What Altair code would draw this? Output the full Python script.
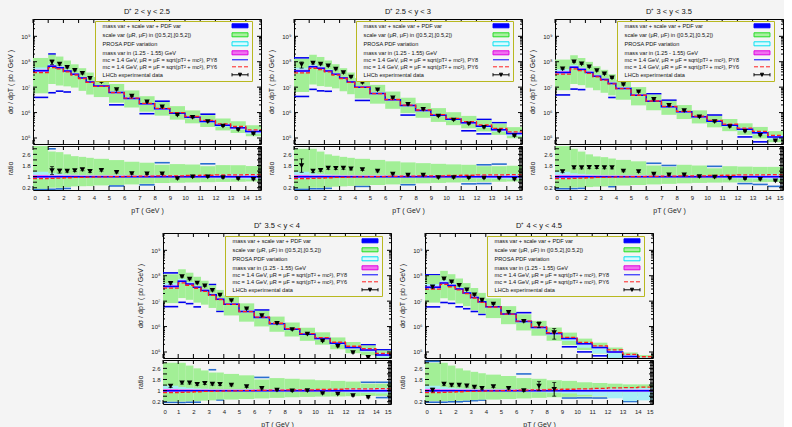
import altair as alt
import pandas as pd

FONT = "Liberation Sans"
BG = "#f4f4f4"

# ---------------- binning ----------------
bin_lo = [0, 1, 1.5, 2, 2.5, 3, 3.5, 4, 5, 6, 7, 8, 9, 10, 11, 12, 13, 14]
bin_hi = [1, 1.5, 2, 2.5, 3, 3.5, 4, 5, 6, 7, 8, 9, 10, 11, 12, 13, 14, 15]
bin_mid = [0.5, 1.25, 1.75, 2.25, 2.75, 3.25, 3.75, 4.5, 5.5, 6.5, 7.5, 8.5,
           9.5, 10.5, 11.5, 12.5, 13.5, 14.5]

panel_titles = ["D⁺    2 < y < 2.5", "D⁺    2.5 < y < 3", "D⁺    3 < y < 3.5",
                "D⁺    3.5 < y < 4", "D⁺    4 < y < 4.5"]

# ---------------- central prediction (PY8), pb/GeV ----------------
central_1 = [4.4e7, 6.7e7, 5.8e7, 4.3e7, 3.2e7, 2.3e7, 1.6e7, 1.1e7, 6.1e6, 3.6e6,
             2.2e6, 1.4e6, 9.4e5, 6.5e5, 4.5e5, 3.2e5, 2.5e5, 1.8e5]
central_2 = [4.3e7, 6.3e7, 5.5e7, 4.3e7, 3.2e7, 2.3e7, 1.6e7, 1.0e7, 5.6e6, 3.2e6,
             1.9e6, 1.2e6, 7.8e5, 5.5e5, 4.0e5, 2.9e5, 2.1e5, 1.5e5]
central_3 = [3.8e7, 6.0e7, 5.0e7, 3.8e7, 2.7e7, 2.0e7, 1.4e7, 8.9e6, 4.8e6, 2.8e6,
             1.7e6, 1.07e6, 6.8e5, 4.6e5, 3.2e5, 2.2e5, 1.6e5, 1.1e5]
central_4 = [3.8e7, 6.0e7, 4.7e7, 3.5e7, 2.6e7, 1.8e7, 1.2e7, 7.6e6, 3.9e6, 2.3e6,
             1.3e6, 7.8e5, 5.0e5, 3.4e5, 2.2e5, 1.5e5, 1.2e5, 7.6e4]
central_5 = [3.5e7, 5.2e7, 4.1e7, 3.0e7, 2.1e7, 1.4e7, 9.4e6, 6.0e6, 3.1e6, 1.6e6,
             9.1e5, 5.3e5, 3.4e5, 2.1e5, 1.5e5, 1.0e5, 6.6e4, 5.2e4]

# ---------------- LHCb data (pb/GeV) and relative errors ----------------
data_1 = [None, 9.6e7, 8.1e7, 6.0e7, 4.6e7, 3.45e7, 2.2e7, 1.6e7, 8.0e6, 4.4e6,
          2.64e6, 1.68e6, 8.0e5, 6.4e5, 4.45e5, 2.95e5, 2.1e5, 1.44e5]
err_1 = [None, 0.2, 0.1, 0.05, 0.05, 0.05, 0.05, 0.04, 0.04, 0.04,
         0.04, 0.04, 0.04, 0.04, 0.04, 0.04, 0.04, 0.04]
data_2 = [7.7e7, 8.8e7, 8.0e7, 6.9e7, 5.1e7, 3.7e7, 2.5e7, 1.5e7, 7.8e6, 3.75e6,
          2.1e6, 1.34e6, 7.3e5, 5.1e5, 3.6e5, 2.6e5, 1.85e5, 1.2e5]
err_2 = [0.27, 0.08, 0.05, 0.05, 0.05, 0.05, 0.05, 0.04, 0.04, 0.04,
         0.04, 0.04, 0.04, 0.04, 0.04, 0.04, 0.04, 0.04]
data_3 = [5.2e7, 9.9e7, 8.2e7, 6.3e7, 4.5e7, 3.3e7, 2.3e7, 1.25e7, 6.5e6, 3.3e6,
          1.9e6, 1.2e6, 6.8e5, 4.4e5, 2.8e5, 1.83e5, 1.28e5, 7.7e4]
err_3 = [0.06, 0.05, 0.05, 0.05, 0.05, 0.05, 0.05, 0.04, 0.04, 0.04,
         0.04, 0.04, 0.04, 0.04, 0.04, 0.04, 0.04, 0.04]
data_4 = [5.05e7, 9.3e7, 7.3e7, 5.1e7, 3.95e7, 2.65e7, 1.74e7, 1.06e7, 5.0e6, 2.67e6,
          1.35e6, 7.6e5, 5.0e5, 2.7e5, 1.65e5, 9.5e4, 6.1e4, None]
err_4 = [0.08, 0.05, 0.05, 0.05, 0.05, 0.05, 0.05, 0.04, 0.04, 0.04,
         0.04, 0.04, 0.04, 0.04, 0.04, 0.05, 0.06, None]
data_5 = [3.65e7, 7.6e7, 5.7e7, 4.2e7, 2.8e7, 1.75e7, 1.09e7, 7.7e6, 3.6e6, 1.6e6,
          1.21e6, 5.8e5, None, None, None, None, None, None]
err_5 = [0.12, 0.05, 0.05, 0.05, 0.05, 0.05, 0.05, 0.05, 0.05, 0.05,
         0.25, 0.45, None, None, None, None, None, None]

# ---------------- uncertainty bands, as ratio to central ----------------
scale_lo_1 = [0.13, 0.2, 0.2, 0.25, 0.3, 0.31, 0.32, 0.37, 0.4, 0.44, 0.49, 0.54, 0.56, 0.58, 0.6, 0.62, 0.63, 0.65]
scale_hi_1 = [3.2, 2.8, 2.76, 2.6, 2.47, 2.42, 2.35, 2.28, 2.19, 2.07, 2.0, 1.85, 1.9, 1.87, 1.75, 1.83, 1.82, 1.76]
total_lo_1 = [0.09, 0.09, 0.12, 0.15, 0.3, 0.31, 0.32, 0.37, 0.33, 0.44, 0.41, 0.54, 0.56, 0.58, 0.6, 0.62, 0.63, 0.65]
total_hi_1 = [3.2, 3.0, 2.76, 2.6, 2.47, 2.42, 2.35, 2.28, 2.19, 2.07, 2.0, 2.0, 1.9, 1.87, 1.92, 1.83, 1.82, 1.76]

scale_lo_2 = [0.15, 0.2, 0.2, 0.24, 0.28, 0.3, 0.33, 0.36, 0.4, 0.44, 0.5, 0.52, 0.55, 0.58, 0.6, 0.62, 0.63, 0.65]
scale_hi_2 = [3.0, 3.0, 2.8, 2.6, 2.5, 2.42, 2.35, 2.28, 2.2, 2.1, 2.02, 1.97, 1.92, 1.88, 1.85, 1.75, 1.75, 1.78]
total_lo_2 = [0.1, 0.13, 0.13, 0.16, 0.28, 0.3, 0.33, 0.3, 0.4, 0.44, 0.42, 0.52, 0.55, 0.58, 0.48, 0.5, 0.63, 0.65]
total_hi_2 = [3.3, 3.0, 2.8, 2.6, 2.5, 2.42, 2.35, 2.28, 2.2, 2.1, 2.02, 1.97, 1.92, 1.88, 1.85, 1.85, 1.9, 1.78]

scale_lo_3 = [0.2, 0.22, 0.24, 0.25, 0.28, 0.3, 0.34, 0.36, 0.4, 0.44, 0.48, 0.52, 0.55, 0.57, 0.58, 0.6, 0.6, 0.62]
scale_hi_3 = [3.2, 3.0, 2.8, 2.6, 2.45, 2.4, 2.3, 2.2, 2.1, 1.8, 1.7, 1.85, 1.8, 1.6, 1.75, 1.72, 1.7, 1.7]
total_lo_3 = [0.13, 0.14, 0.16, 0.25, 0.28, 0.3, 0.28, 0.36, 0.4, 0.44, 0.48, 0.52, 0.55, 0.57, 0.58, 0.5, 0.44, 0.3]
total_hi_3 = [3.2, 3.0, 2.8, 2.6, 2.45, 2.4, 2.3, 2.2, 2.1, 1.96, 1.8, 1.85, 1.8, 1.74, 1.75, 1.72, 1.7, 1.7]

scale_lo_4 = [0.22, 0.22, 0.24, 0.25, 0.28, 0.3, 0.36, 0.36, 0.4, 0.44, 0.48, 0.52, 0.55, 0.57, 0.58, 0.6, 0.62, 0.62]
scale_hi_4 = [3.0, 3.0, 2.8, 2.6, 2.45, 2.3, 2.3, 2.2, 2.1, 1.8, 1.9, 1.85, 1.8, 1.75, 1.7, 1.65, 1.5, 1.5]
total_lo_4 = [0.16, 0.15, 0.17, 0.17, 0.28, 0.3, 0.33, 0.36, 0.4, 0.44, 0.48, 0.52, 0.55, 0.57, 0.58, 0.6, 0.62, 0.5]
total_hi_4 = [3.4, 3.0, 2.8, 2.6, 2.45, 2.5, 2.3, 2.2, 2.1, 1.95, 1.9, 1.85, 1.8, 1.75, 1.7, 1.65, 1.6, 1.6]

scale_lo_5 = [0.25, 0.25, 0.26, 0.27, 0.3, 0.32, 0.35, 0.36, 0.4, 0.44, 0.48, 0.52, 0.55, 0.57, 0.58, 0.6, 0.6, 0.6]
scale_hi_5 = [3.0, 3.0, 2.8, 2.6, 2.45, 2.35, 2.25, 2.15, 2.05, 1.9, 1.85, 1.75, 1.7, 1.6, 1.55, 1.5, 1.45, 1.45]
total_lo_5 = [0.17, 0.17, 0.2, 0.2, 0.24, 0.28, 0.32, 0.36, 0.4, 0.44, 0.48, 0.52, 0.47, 0.48, 0.47, 0.6, 0.22, 0.42]
total_hi_5 = [3.1, 3.0, 2.8, 2.6, 2.45, 2.35, 2.25, 2.15, 2.05, 2.2, 1.85, 1.75, 1.7, 1.6, 1.55, 1.5, 1.45, 1.45]

pdf_lo = [0.85, 0.88, 0.9, 0.9, 0.91, 0.92, 0.92, 0.92, 0.92, 0.92, 0.92, 0.92, 0.91, 0.9, 0.88, 0.86, 0.84, 0.8]
pdf_hi = [1.35, 1.25, 1.2, 1.16, 1.14, 1.12, 1.11, 1.1, 1.1, 1.1, 1.1, 1.1, 1.1, 1.12, 1.14, 1.16, 1.18, 1.2]
pdf_lo_5 = [0.85, 0.88, 0.9, 0.9, 0.91, 0.92, 0.92, 0.92, 0.92, 0.9, 0.88, 0.85, 0.8, 0.7, 0.6, 0.45, 0.25, 0.3]
mass_lo = [0.9, 0.92, 0.93, 0.93, 0.94, 0.94, 0.94, 0.94, 0.94, 0.94, 0.94, 0.94, 0.93, 0.93, 0.93, 0.93, 0.92, 0.92]
mass_hi = [1.12, 1.1, 1.1, 1.09, 1.09, 1.08, 1.08, 1.08, 1.08, 1.08, 1.08, 1.08, 1.08, 1.08, 1.08, 1.08, 1.08, 1.08]
py6_ratio = [0.85, 0.88, 0.9, 0.92, 0.94, 0.95, 0.96, 0.98, 1.0, 1.02, 1.04, 1.05, 1.06, 1.08, 1.1, 1.12, 1.13, 1.15]
py6_ratio_5 = [0.85, 0.88, 0.9, 0.92, 0.94, 0.95, 0.96, 0.98, 1.0, 1.03, 1.06, 1.08, 1.1, 1.13, 1.16, 1.2, 1.22, 1.25]

legend_labels = ["mass var + scale var + PDF var",
                 "scale var (μR, μF)  in ([0.5,2],[0.5,2])",
                 "PROSA PDF variation",
                 "mass var in (1.25 - 1.55) GeV",
                 "mc = 1.4 GeV, μR = μF = sqrt(pT² + mc²), PY8",
                 "mc = 1.4 GeV, μR = μF = sqrt(pT² + mc²), PY6",
                 "LHCb experimental data"]

x_ticks = list(range(16))
y_major = [1e5, 1e6, 1e7, 1e8, 1e9]
y_minor = [k * 10 ** e for e in range(4, 10) for k in range(2, 10)
           if 5.8e4 <= k * 10 ** e <= 4.8e9]
r_major = [0.2, 0.6, 1, 1.4, 1.8, 2.2, 2.6, 3.0]
r_minor = [round(0.1 * i, 1) for i in range(1, 32)]

PANELS = [
    dict(c=central_1, d=data_1, e=err_1, slo=scale_lo_1, shi=scale_hi_1, tlo=total_lo_1, thi=total_hi_1, plo=pdf_lo, r6=py6_ratio),
    dict(c=central_2, d=data_2, e=err_2, slo=scale_lo_2, shi=scale_hi_2, tlo=total_lo_2, thi=total_hi_2, plo=pdf_lo, r6=py6_ratio),
    dict(c=central_3, d=data_3, e=err_3, slo=scale_lo_3, shi=scale_hi_3, tlo=total_lo_3, thi=total_hi_3, plo=pdf_lo, r6=py6_ratio),
    dict(c=central_4, d=data_4, e=err_4, slo=scale_lo_4, shi=scale_hi_4, tlo=total_lo_4, thi=total_hi_4, plo=pdf_lo, r6=py6_ratio),
    dict(c=central_5, d=data_5, e=err_5, slo=scale_lo_5, shi=scale_hi_5, tlo=total_lo_5, thi=total_hi_5, plo=pdf_lo_5, r6=py6_ratio_5),
]

W = 228
HM = 125
HR = 44

XS = alt.Scale(domain=[0, 15], nice=False, zero=False)
YS_M = alt.Scale(type="log", domain=[5.8e4, 4.8e9], nice=False)
YS_R = alt.Scale(domain=[0.04, 3.2], nice=False, zero=False)

sup_expr = ("datum.value > 5e8 ? '10⁹' : datum.value > 5e7 ? '10⁸' : "
            "datum.value > 5e6 ? '10⁷' : datum.value > 5e5 ? '10⁶' : '10⁵'")

AX_YM = alt.Axis(values=y_major, labelExpr=sup_expr, title="dσ / dpT    ( pb / GeV )",
                 titleX=-20, labelPadding=3)
AX_YR = alt.Axis(values=r_major, format=".1~f",
                 labelExpr="datum.value == 3 ? '3.0' : datum.label",
                 title="ratio", titleX=-20, labelPadding=3)
AX_XR = alt.Axis(values=x_ticks, title="pT    ( GeV )", labelPadding=4, titlePadding=6)

leg_fill = ["#0000ff", "#a8f0a0", "#d8fbff", "#f070f0", "transparent", "transparent", "#000000"]
leg_stroke = ["#0000ff", "#22dd22", "#00e0f0", "#e000e0", "#0000ff", "#ff2020", "#000000"]
# legend sample glyphs drawn at the right end of each legend row (gnuplot style)
rect_path = "M66.1,-1H74.1V1H66.1Z"
line_path = "M66.1,0H74.1"
data_path = "M66.1,0H74.1M66.1,-0.8V0.8M74.1,-0.8V0.8M69.3,-0.8H70.9L70.1,0.8Z"
leg_shape = [rect_path, rect_path, rect_path, rect_path, line_path, line_path, data_path]
leg_dash = [[1, 0], [1, 0], [1, 0], [1, 0], [1, 0], [4, 2], [1, 0]]


def build_frames(p):
    rows_m, rows_r = [], []
    for i in range(18):
        c = p["c"][i]
        base = dict(x0=bin_lo[i], x1=bin_hi[i], xm=bin_mid[i])
        rat = dict(slo=p["slo"][i], shi=p["shi"][i], tlo=p["tlo"][i], thi=p["thi"][i],
                   plo=p["plo"][i], phi=pdf_hi[i], mlo=mass_lo[i], mhi=mass_hi[i])
        rm = dict(base)
        rr = dict(base)
        for k, v in rat.items():
            rm[k] = v * c
            rr[k] = v
        d = p["d"][i]
        if d is not None:
            e = p["e"][i]
            rm.update(d=d, dlo=d * (1 - e), dhi=d * (1 + e))
            rr.update(d=d / c, dlo=d / c * (1 - e), dhi=d / c * (1 + e))
        rows_m.append(rm)
        rows_r.append(rr)
    bm = pd.DataFrame(rows_m)
    br = pd.DataFrame(rows_r)
    xs = bin_lo + [15]
    cen = p["c"] + [p["c"][-1]]
    r6 = p["r6"] + [p["r6"][-1]]
    lm = pd.DataFrame({"x": xs, "cen": cen, "py6": [a * b for a, b in zip(cen, r6)]})
    lr = pd.DataFrame({"x": xs, "cen": [1.0] * len(xs), "py6": r6})
    return bm, br, lm, lr


def layers(bins, line, ys, yax, xax, h, is_ratio, legend_y):
    X = lambda f: alt.X(f, type="quantitative", scale=XS, axis=xax)
    Y = lambda f: alt.Y(f, type="quantitative", scale=ys, axis=yax)
    base = alt.Chart(bins)
    tot_col = "#2a6fd0" if is_ratio else "#0000ee"
    L = []
    L.append(base.transform_filter("datum.tlo < datum.slo * 0.999")
             .mark_rule(color=tot_col, strokeWidth=1.6, clip=True).encode(x=X("x0"), x2="x1", y=Y("tlo")))
    L.append(base.transform_filter("datum.thi > datum.shi * 1.001")
             .mark_rule(color=tot_col, strokeWidth=1.6, clip=True).encode(x=X("x0"), x2="x1", y=Y("thi")))
    L.append(base.mark_rect(fill="#a2ef96", clip=True).encode(x=X("x0"), x2="x1", y=Y("slo"), y2="shi"))
    L.append(base.mark_rect(fill="#a6eef6", clip=True).encode(x=X("x0"), x2="x1", y=Y("plo"), y2="phi"))
    L.append(base.mark_rect(fill="#f064f0", clip=True).encode(x=X("x0"), x2="x1", y=Y("mlo"), y2="mhi"))
    lc = alt.Chart(line)
    L.append(lc.mark_line(interpolate="step-after", color="#0000ff", strokeWidth=1.5, clip=True)
             .encode(x=X("x"), y=Y("cen")))
    L.append(lc.mark_line(interpolate="step-after", color="#ff2020", strokeWidth=1.3,
                          strokeDash=[4, 2], clip=True).encode(x=X("x"), y=Y("py6")))
    dat = alt.Chart(bins).transform_filter("isValid(datum.d)")
    L.append(dat.mark_rule(color="black", strokeWidth=1, clip=True).encode(x=X("xm"), y=Y("dlo"), y2="dhi"))
    L.append(dat.mark_tick(orient="horizontal", size=4, thickness=1, color="black", clip=True)
             .encode(x=X("xm"), y=Y("dlo")))
    L.append(dat.mark_tick(orient="horizontal", size=4, thickness=1, color="black", clip=True)
             .encode(x=X("xm"), y=Y("dhi")))
    L.append(dat.mark_point(shape="triangle-down", filled=True, color="black", size=30,
                            opacity=1, clip=True).encode(x=X("xm"), y=Y("d")))
    # inward ticks (gnuplot style), drawn as short rules inside the frame
    xt = alt.Chart(pd.DataFrame({"v": x_ticks}))
    L.append(xt.mark_rule(color="black", strokeWidth=1).encode(x=X("v"), y=alt.value(0), y2=alt.value(4)))
    L.append(xt.mark_rule(color="black", strokeWidth=1).encode(x=X("v"), y=alt.value(h - 4), y2=alt.value(h)))
    if is_ratio:
        yt = alt.Chart(pd.DataFrame({"v": r_major}))
        ym = alt.Chart(pd.DataFrame({"v": r_minor}))
        L.append(yt.mark_rule(color="black", strokeWidth=1).encode(y=Y("v"), x=alt.value(0), x2=alt.value(4)))
        L.append(yt.mark_rule(color="black", strokeWidth=1).encode(y=Y("v"), x=alt.value(W - 4), x2=alt.value(W)))
        L.append(ym.mark_rule(color="black", strokeWidth=1).encode(y=Y("v"), x=alt.value(W - 3), x2=alt.value(W)))
    else:
        yt = alt.Chart(pd.DataFrame({"v": y_major}))
        ym = alt.Chart(pd.DataFrame({"v": y_minor}))
        L.append(yt.mark_rule(color="black", strokeWidth=1).encode(y=Y("v"), x=alt.value(0), x2=alt.value(4)))
        L.append(yt.mark_rule(color="black", strokeWidth=1).encode(y=Y("v"), x=alt.value(W - 4), x2=alt.value(W)))
        L.append(ym.mark_rule(color="black", strokeWidth=1).encode(y=Y("v"), x=alt.value(0), x2=alt.value(2)))
        L.append(ym.mark_rule(color="black", strokeWidth=1).encode(y=Y("v"), x=alt.value(W - 2), x2=alt.value(W)))
        # legend (dummy layer placed far outside the plot and clipped away)
        leg = alt.Legend(orient="none", legendX=62, legendY=legend_y, title=None,
                         padding=2, labelFontSize=5.6, labelFont=FONT, labelColor="#111",
                         labelOffset=0, labelLimit=300, symbolSize=16, columnPadding=0,
                         symbolStrokeWidth=1, rowPadding=0, fillColor=BG,
                         strokeColor="#b8b820")
        ldf = pd.DataFrame({"lab": legend_labels, "x": [-200.0] * 7, "y": [1e-6] * 7})
        L.append(alt.Chart(ldf).mark_point(opacity=1, strokeWidth=1, clip=True).encode(
            x=X("x"), y=Y("y"),
            fill=alt.Fill("lab:N", scale=alt.Scale(domain=legend_labels, range=leg_fill), legend=leg),
            stroke=alt.Stroke("lab:N", scale=alt.Scale(domain=legend_labels, range=leg_stroke), legend=leg),
            shape=alt.Shape("lab:N", scale=alt.Scale(domain=legend_labels, range=leg_shape), legend=leg),
            strokeDash=alt.StrokeDash("lab:N", scale=alt.Scale(domain=legend_labels, range=leg_dash), legend=leg),
        ))
    return alt.layer(*L)


def panel(k, legend_y):
    bm, br, lm, lr = build_frames(PANELS[k])
    main = layers(bm, lm, YS_M, AX_YM, None, HM, False, legend_y).properties(
        width=W, height=HM,
        title=alt.TitleParams(panel_titles[k], fontSize=7.5, fontWeight="normal", font=FONT,
                              offset=3, frame="group", anchor="middle", color="#111"))
    ratio = layers(br, lr, YS_R, AX_YR, AX_XR, HR, True, legend_y).properties(width=W, height=HR)
    return alt.vconcat(main, ratio, spacing=0)


RES = dict(fill="independent", stroke="independent", shape="independent", strokeDash="independent")

top = alt.hconcat(panel(0, 2), panel(1, 2), panel(2, 2), spacing=4).resolve_scale(**RES)
bottom = alt.hconcat(panel(3, 3), panel(4, 3), spacing=5).resolve_scale(**RES)

chart = alt.vconcat(top, bottom, spacing=7, center=True).resolve_scale(**RES)

chart = chart.configure(
    background=BG, font=FONT, padding={"left": 5, "top": 7, "right": 0, "bottom": 0}
).configure_view(
    stroke="black", strokeWidth=1
).configure_axis(
    grid=False, ticks=False, domain=False, labelFont=FONT, titleFont=FONT,
    labelColor="#222", titleColor="#222", labelFontSize=6, titleFontSize=7,
    titleFontWeight="normal"
)

chart.save("out.html", embed_options={"renderer": "svg", "actions": False})
